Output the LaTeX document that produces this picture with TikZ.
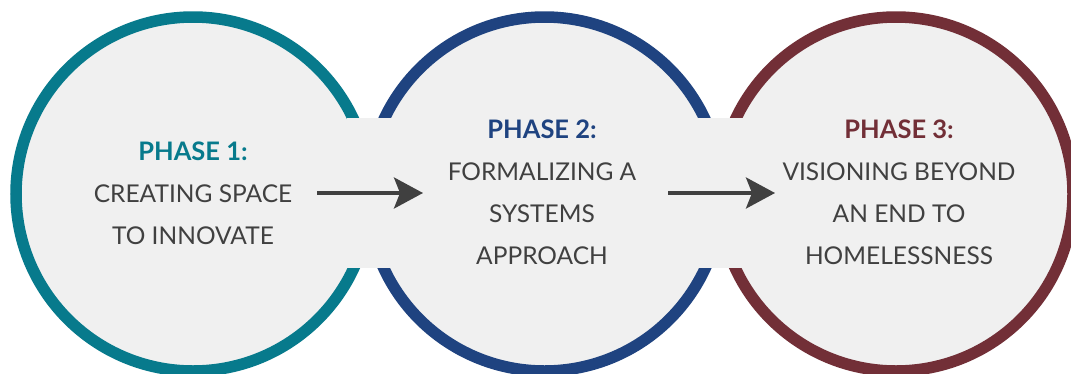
\documentclass[tikz,border=0pt]{standalone}
\usepackage{fontspec}
\setmainfont{Lato}
\usetikzlibrary{arrows.meta}
\definecolor{tealc}{HTML}{077A8C}
\definecolor{bluec}{HTML}{1F4380}
\definecolor{redc}{HTML}{722F37}
\definecolor{fillg}{HTML}{F0F0F0}
\definecolor{textg}{HTML}{404040}
\newcommand{\phaselabel}[2]{\textcolor{#1}{\fontsize{25.5}{42}\selectfont\bfseries #2}}
\tikzset{
  phasecircle/.style={circle, draw=#1, line width=11.5pt, fill=fillg, minimum size=354pt, inner sep=0pt},
  phasetext/.style={align=center, text=textg, font={\fontsize{24.5}{42}\selectfont}, inner sep=0pt},
  flowarrow/.style={draw=textg, line width=3.5pt, -{Stealth[length=29pt, width=31pt, inset=6pt]}},
}
\begin{document}
\begin{tikzpicture}[x=1pt, y=-1pt]
\useasboundingbox (0,0) rectangle (1071,373);
\clip (0,0) rectangle (1071,373);
\fill[white] (0,0) rectangle (1071,373);
\node[phasecircle=tealc] (c1) at (193,194) {};
\node[phasecircle=bluec] (c2) at (544.5,194) {};
\node[phasecircle=redc] (c3) at (896,194) {};
\fill[fillg] (347,118) rectangle (743,268);
\node[phasetext] (t1) at (193,193) {\phaselabel{tealc}{PHASE 1:}\\CREATING SPACE\\TO INNOVATE};
\node[phasetext] (t2) at (542,192) {\phaselabel{bluec}{PHASE 2:}\\FORMALIZING A\\SYSTEMS\\APPROACH};
\node[phasetext] (t3) at (899,192) {\phaselabel{redc}{PHASE 3:}\\VISIONING BEYOND\\AN END TO\\HOMELESSNESS};
\coordinate (a1s) at (317,193);
\coordinate (a1e) at (423,193);
\coordinate (a2s) at (668,193);
\coordinate (a2e) at (775,193);
\draw[flowarrow] (a1s) -- (a1e);
\draw[flowarrow] (a2s) -- (a2e);
\end{tikzpicture}
\end{document}
